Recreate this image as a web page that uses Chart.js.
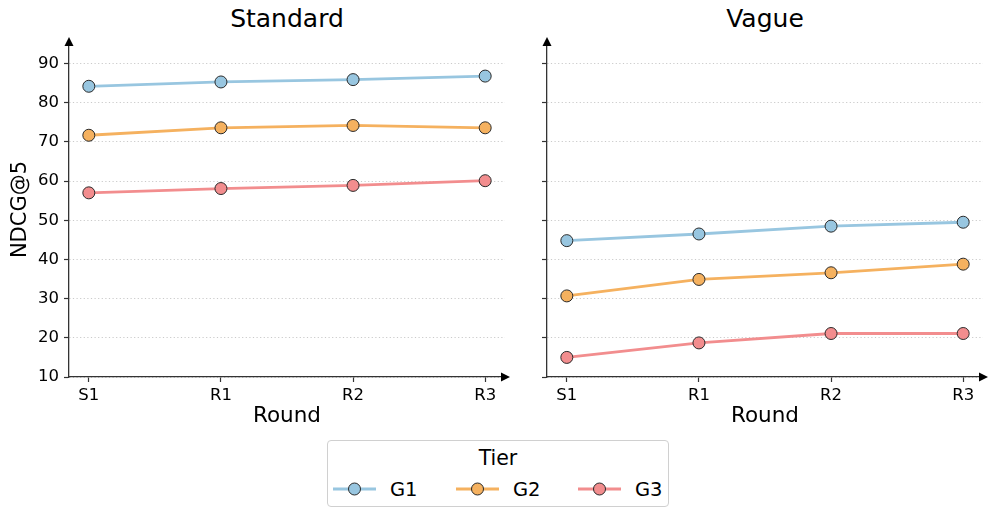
<!DOCTYPE html>
<html>
<head>
<meta charset="utf-8">
<script src="https://cdn.jsdelivr.net/npm/chart.js@4.4.1/dist/chart.umd.min.js"></script>
<style>
  html, body { margin: 0; padding: 0; background: #fff; }
  body { width: 997px; height: 517px; position: relative; overflow: hidden; font-family: "DejaVu Sans", sans-serif; }
  #wrapL { position: absolute; left: 0; top: 1px; width: 520px; height: 430px; }
  #wrapR { position: absolute; left: 520px; top: 1px; width: 477px; height: 430px; }
  .ptitle { position: absolute; top: 4px; width: 300px; text-align: center; font-size: 25px; line-height: 30px; color: #000; }
  #legend { position: absolute; left: 327px; top: 440px; width: 340px; height: 65px; border: 1px solid #d0d0d0; border-radius: 4px; box-sizing: content-box; }
  #legend .title { position: absolute; left: 0; right: 0; top: 5px; text-align: center; font-size: 20.5px; color: #000; }
  #legend .item { position: absolute; top: 35px; height: 26px; display: flex; align-items: center; font-size: 19.5px; color: #000; }
  #legend svg { margin-right: 13px; }
</style>
</head>
<body>
<div class="ptitle" id="tL" style="left:137px"></div>
<div class="ptitle" id="tR" style="left:615px"></div>
<div id="wrapL"><canvas id="cL" width="520" height="430"></canvas></div>
<div id="wrapR"><canvas id="cR" width="477" height="430"></canvas></div>
<div id="legend"></div>
<script>
// ---- data ----
const rounds = ["S1", "R1", "R2", "R3"];
const tiers = ["G1", "G2", "G3"];
const panelTitles = ["Standard", "Vague"];
const standardG1 = [84.2, 85.3, 85.9, 86.8];
const standardG2 = [71.7, 73.6, 74.2, 73.6];
const standardG3 = [57.0, 58.1, 58.9, 60.1];
const vagueG1 = [44.8, 46.5, 48.5, 49.5];
const vagueG2 = [30.7, 34.9, 36.6, 38.8];
const vagueG3 = [15.0, 18.7, 21.1, 21.1];
const yTicks = [10, 20, 30, 40, 50, 60, 70, 80, 90];
const tierColors = ["#98c6e0", "#f5b15f", "#f28d8e"];

const FONT = "'DejaVu Sans', sans-serif";
const AXIS = "#333333";

document.getElementById("tL").textContent = panelTitles[0];
document.getElementById("tR").textContent = panelTitles[1];

const arrowPlugin = {
  id: "arrows",
  afterDraw(chart) {
    const { ctx, chartArea: a } = chart;
    ctx.save();
    ctx.fillStyle = "#000";
    // y arrow
    ctx.beginPath();
    ctx.moveTo(a.left, a.top - 5);
    ctx.lineTo(a.left - 4.5, a.top + 4);
    ctx.lineTo(a.left + 4.5, a.top + 4);
    ctx.closePath();
    ctx.fill();
    // x arrow
    ctx.beginPath();
    ctx.moveTo(a.right + 5, a.bottom);
    ctx.lineTo(a.right - 4, a.bottom - 4.5);
    ctx.lineTo(a.right - 4, a.bottom + 4.5);
    ctx.closePath();
    ctx.fill();
    ctx.restore();
  }
};

function makeDatasets(series) {
  return series.map((vals, i) => ({
    label: tiers[i],
    data: vals.map((v, k) => ({ x: k, y: v })),
    borderColor: tierColors[i],
    backgroundColor: tierColors[i],
    borderWidth: 2.8,
    pointRadius: 6,
    pointHoverRadius: 6,
    pointBackgroundColor: tierColors[i],
    pointBorderColor: "#2a2a2a",
    pointBorderWidth: 1,
    tension: 0
  }));
}

function makeChart(id, series, isLeft, rightPad, yWidth) {
  return new Chart(document.getElementById(id), {
    type: "line",
    data: { datasets: makeDatasets(series) },
    plugins: [arrowPlugin],
    options: {
      responsive: false,
      animation: false,
      events: [],
      layout: { padding: { left: 0, right: rightPad, top: 41, bottom: 0 } },
      plugins: {
        legend: { display: false },
        tooltip: { enabled: false },
        title: { display: false }
      },
      scales: {
        x: {
          type: "linear",
          min: -0.15,
          max: 3.15,
          afterBuildTicks(scale) { scale.ticks = rounds.map((r, i) => ({ value: i })); },
          afterFit(scale) { scale.height = 54; },
          ticks: {
            callback: (v) => rounds[v],
            color: "#000",
            font: { family: FONT, size: 16.5 },
            padding: 4,
            maxRotation: 0,
            autoSkip: false
          },
          grid: { drawOnChartArea: false, drawTicks: true, tickLength: 5, tickColor: AXIS, tickWidth: 1.2 },
          border: { display: true, color: AXIS, width: 1.3 },
          title: {
            display: true,
            text: "Round",
            color: "#000",
            font: { family: FONT, size: 21.5 },
            padding: { top: 0, bottom: 2 }
          }
        },
        y: {
          type: "linear",
          min: 10,
          max: 95.5,
          afterBuildTicks(scale) { scale.ticks = yTicks.map(v => ({ value: v })); },
          afterFit(scale) { scale.width = yWidth; },
          ticks: {
            display: isLeft,
            color: "#000",
            font: { family: FONT, size: 16.5 },
            padding: 5
          },
          grid: {
            color: "#c4c4c4",
            lineWidth: 0.9,
            drawTicks: true,
            tickLength: 5,
            tickColor: AXIS,
            tickWidth: 1.2,
            tickBorderDash: []
          },
          border: { display: true, color: AXIS, width: 1.3, dash: [1.2, 2.4] },
          title: {
            display: isLeft,
            text: "NDCG@5",
            color: "#000",
            font: { family: FONT, size: 21 },
            padding: { top: 8, bottom: 0 }
          }
        }
      }
    }
  });
}

makeChart("cL", [standardG1, standardG2, standardG3], true, 15, 69);
makeChart("cR", [vagueG1, vagueG2, vagueG3], false, 14, 27);

// ---- legend ----
const legend = document.getElementById("legend");
const t = document.createElement("div");
t.className = "title";
t.textContent = "Tier";
legend.appendChild(t);
const itemLeft = [5, 128, 250];
tiers.forEach((name, i) => {
  const it = document.createElement("div");
  it.className = "item";
  it.style.left = itemLeft[i] + "px";
  it.innerHTML =
    '<svg width="44" height="16" viewBox="0 0 44 16">' +
    '<line x1="0" y1="8" x2="43" y2="8" stroke="' + tierColors[i] + '" stroke-width="2.8"/>' +
    '<circle cx="21.5" cy="8" r="6" fill="' + tierColors[i] + '" stroke="#2a2a2a" stroke-width="1"/>' +
    '</svg><span>' + name + '</span>';
  legend.appendChild(it);
});
</script>
</body>
</html>
